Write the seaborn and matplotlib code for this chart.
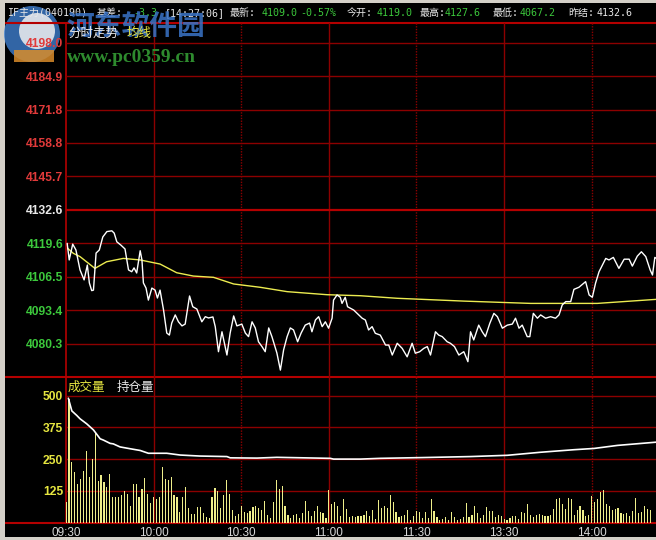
import numpy as np
import pandas as pd
import seaborn as sns
import matplotlib.pyplot as plt
from matplotlib.patches import Rectangle, Circle

# ---- values (minutes after 09:30, lunch break removed) ----
price_min = [0.4, 1.1, 2.3, 3.4, 4.8, 6.2, 7.3, 8.0, 8.8, 9.4,
             10.3, 11.4, 12.6, 14.0, 15.7, 16.5, 17.4, 18.8, 20.2, 21.4,
             22.5, 23.3, 24.2, 25.4, 26.0, 26.5, 27.4, 28.2, 29.4, 30.5,
             31.3, 32.2, 33.4, 34.5, 35.4, 36.2, 37.4, 38.5, 39.7, 40.8,
             42.3, 43.4, 44.8, 46.5, 47.7, 48.8, 50.3, 51.1, 52.2, 53.4,
             55.1, 56.2, 57.4, 58.5, 60.2, 61.4, 62.5, 63.7, 64.8, 65.9,
             67.1, 68.2, 69.4, 70.5, 72.2, 73.4, 74.5, 75.7, 76.8, 77.9,
             79.3, 80.5, 81.9, 83.4, 84.2, 85.4, 86.5, 87.7, 88.8, 89.9,
             91.1, 91.6, 92.8, 93.9, 94.5, 95.6, 96.4, 98.5, 100.2, 101.4,
             102.5, 103.6, 104.8, 105.9, 107.6, 109.4, 110.5, 111.7, 113.4, 115.1,
             116.8, 118.5, 119.6, 121.1, 122.5, 123.7, 124.8, 126.5, 127.6, 128.8,
             130.5, 131.6, 133.0, 134.5, 136.2, 137.6, 138.5, 139.6, 141.3, 142.5,
             143.6, 145.1, 146.5, 147.7, 149.4, 151.1, 152.8, 153.9, 155.1, 156.2,
             157.9, 158.8, 160.0, 161.4, 162.5, 164.2, 165.9, 167.6, 168.8, 169.9,
             171.1, 172.8, 173.9, 175.6, 177.9, 179.1, 180.2, 181.3, 182.5, 184.8,
             185.9, 187.4, 189.3, 191.1, 192.8, 193.9, 195.6, 197.0, 198.5, 200.0,
             200.8, 201.6, 202.3]
price_val = [4119.5, 4113.0, 4119.2, 4116.9, 4109.1, 4105.2, 4111.0, 4104.0, 4101.0, 4101.2,
             4115.7, 4116.9, 4122.0, 4124.1, 4124.4, 4123.5, 4120.1, 4118.8, 4117.3, 4109.1,
             4108.4, 4109.9, 4107.9, 4116.6, 4113.0, 4104.0, 4102.0, 4097.3, 4102.0, 4101.2,
             4098.1, 4101.2, 4093.4, 4084.4, 4083.6, 4088.3, 4091.5, 4088.8, 4087.2, 4087.9,
             4098.9, 4094.7, 4093.8, 4088.8, 4090.8, 4090.3, 4090.7, 4086.9, 4077.1, 4084.9,
             4075.8, 4084.4, 4091.1, 4087.2, 4087.9, 4084.4, 4083.0, 4088.8, 4086.4, 4081.0,
             4079.1, 4077.1, 4086.4, 4083.0, 4076.6, 4069.9, 4077.8, 4083.0, 4086.4, 4085.6,
             4081.0, 4084.4, 4087.5, 4088.3, 4084.9, 4089.5, 4090.8, 4086.9, 4088.8, 4086.3,
             4090.2, 4097.3, 4099.3, 4098.4, 4096.0, 4098.4, 4094.7, 4093.4, 4091.5, 4090.2,
             4089.5, 4085.6, 4086.9, 4084.3, 4083.6, 4079.7, 4079.7, 4075.8, 4080.4, 4078.4,
             4075.1, 4080.4, 4076.5, 4077.1, 4078.4, 4079.1, 4075.8, 4084.9, 4083.6, 4083.0,
             4081.0, 4080.4, 4079.1, 4075.8, 4077.1, 4073.2, 4084.9, 4081.7, 4087.5, 4084.9,
             4083.0, 4088.2, 4092.1, 4090.8, 4086.3, 4087.5, 4087.9, 4090.2, 4086.3, 4087.5,
             4083.0, 4083.0, 4092.1, 4090.2, 4091.5, 4090.2, 4090.8, 4090.2, 4091.5, 4095.4,
             4096.7, 4096.7, 4101.5, 4102.3, 4104.5, 4099.3, 4098.4, 4103.9, 4108.4, 4113.6,
             4113.0, 4114.0, 4109.7, 4113.3, 4113.3, 4110.6, 4114.5, 4116.2, 4114.3, 4109.1,
             4107.1, 4114.0, 4113.5]

avg_min = [0.6, 2.5, 4.8, 9.9, 13.9, 19.6, 25.4, 32.2, 37.9, 43.6, 50.5,
           57.4, 66.5, 75.7, 89.4, 100.8, 113.4, 136.2, 159.1, 181.9, 202.3]
avg_val = [4117.5, 4115.6, 4114.3, 4109.7, 4112.3, 4113.6, 4113.0, 4111.4, 4108.0, 4106.7, 4106.2,
           4103.6, 4102.3, 4100.6, 4099.4, 4099.0, 4098.0, 4096.9, 4096.0, 4096.0, 4097.6]

oi_min = [0.8, 2.0, 3.7, 4.8, 7.1, 9.4, 11.7, 12.8, 15.1, 16.2, 18.5, 21.9, 25.4, 28.2, 34.5,
          39.1, 45.9, 55.1, 56.2, 65.4, 72.2, 90.5, 91.6, 100.8, 107.6, 121.9, 138.5, 151.1,
          162.5, 173.9, 180.8, 188.8, 202.3]
oi_val = [490, 440, 422, 409, 389, 365, 330, 325, 312, 310, 298, 291, 284, 273, 273,
          266, 262, 260, 255, 254, 257, 253, 250, 250, 253, 256, 260, 265,
          277, 287, 292, 304, 317]

volume = [80, 488, 238, 198, 153, 172, 202, 281, 179, 251,
          356, 163, 188, 159, 139, 192, 100, 100, 101, 110,
          123, 113, 67, 153, 153, 101, 133, 176, 113, 76,
          100, 93, 100, 218, 170, 166, 181, 110, 100, 41,
          100, 139, 58, 32, 32, 63, 61, 37,
          20, 17, 101, 136, 125, 56, 108, 169, 112, 48,
          24, 35, 67, 40, 38, 44, 60, 65, 56, 48,
          85, 31, 17, 81, 169, 132, 145, 67, 31, 17,
          31, 35, 17, 38, 85, 44, 27, 44, 65, 40,
          38, 17, 129, 71, 81, 67, 27, 94, 54, 20,
          27, 22, 24, 27, 31, 44, 27, 48, 13, 89,
          58, 67, 58, 108, 81, 40, 22, 27, 31, 48,
          8, 24, 44, 40, 17, 40, 17, 91, 44, 22,
          11, 13, 22, 8, 40, 22, 8, 13, 22, 75,
          22, 31, 67, 38, 17, 31, 62, 44, 44, 22,
          31, 24, 13, 8, 17, 27, 27, 13, 40, 38,
          71, 31, 22, 31, 35, 31, 24, 24, 31, 54,
          94, 98, 71, 54, 98, 94, 31, 48, 65, 48,
          27, 31, 105, 81, 94, 121, 129, 71, 67, 51,
          54, 58, 38, 35, 38, 27, 44, 98, 38, 40,
          65, 54, 51]

price_ticks = [4080.3, 4093.4, 4106.5, 4119.6, 4132.6, 4145.7, 4158.8, 4171.8, 4184.9, 4198.0]
vol_ticks = [125, 250, 375, 500]
time_pos = [0, 30, 60, 90, 120, 150, 180]
time_labels = ['09:30', '10:00', '10:30', '11:00', '11:30', '13:30', '14:00']
prev_settle = 4132.6

header = [('IF主力(040190)', 'w'), ('基差:', 'w'), ('-3.3', 'g'), ('[14:27:06]', 'w'),
          ('最新:', 'w'), ('4109.0', 'g'), ('-0.57%', 'g'), ('今开:', 'w'), ('4119.0', 'g'),
          ('最高:', 'w'), ('4127.6', 'g'), ('最低:', 'w'), ('4067.2', 'g'),
          ('昨结:', 'w'), ('4132.6', 'w')]
header_x = [7, 97, 133, 165, 230, 262, 300, 347, 377, 420, 445, 493, 520, 568, 597]

# ---- style ----
sns.set_theme(style='dark', rc={'axes.facecolor': 'black', 'figure.facecolor': 'black'})
plt.rcParams['font.family'] = ['Liberation Sans', 'Noto Sans CJK SC', 'DejaVu Sans']
cjk = ['Noto Sans CJK SC', 'DejaVu Sans']
hdr_font = ['DejaVu Sans Mono', 'Noto Sans CJK SC']

RED = '#8c0000'
RED2 = '#b40000'
WHITE = '#e8e8e8'
GREEN = '#3cc83c'
PRED = '#e03a3a'
YEL = '#e6e640'
GRAY = '#d4d0c8'

W, H = 656, 540
fig = plt.figure(figsize=(W / 100, H / 100), dpi=100, facecolor='black')

# pixel canvas for frame pieces
bg = fig.add_axes([0, 0, 1, 1])
bg.set_xlim(0, W)
bg.set_ylim(H, 0)
bg.axis('off')
bg.add_patch(Rectangle((0, 0), 5, H, color=GRAY, lw=0))
bg.add_patch(Rectangle((0, 0), W, 2.5, color=GRAY, lw=0))
bg.add_patch(Rectangle((0, 537), W, 3, color=GRAY, lw=0))
for yy in (22.5, 377, 522.5):
    bg.plot([5, W], [yy, yy], color=RED2, lw=1.5, solid_capstyle='butt')

# watermark logo (behind the chart text)
bg.add_patch(Circle((32, 34), 28, color='#3f7fcf', alpha=0.8, lw=0))
bg.add_patch(Circle((37, 31), 18, color='#f0f0f0', alpha=0.85, lw=0))
bg.add_patch(Rectangle((14, 50), 40, 12, color='#d98c2a', alpha=0.85, lw=0))

ax = fig.add_axes([66 / W, 1 - 377 / H, (W - 66) / W, (377 - 22.5) / H])
ax2 = fig.add_axes([66 / W, 1 - 522.5 / H, (W - 66) / W, (522.5 - 377) / H])

XMAX = 202
for a in (ax, ax2):
    a.set_facecolor('none')
    for s in a.spines.values():
        s.set_visible(False)
    a.grid(False)
    a.axvline(0, color=RED2, lw=1.2, clip_on=False)
    for t in (30, 90, 150):
        a.axvline(t, color=RED, lw=1)
    for t in (60, 120, 180):
        a.axvline(t, color=RED, lw=1, ls=(0, (1, 1)))

for p in price_ticks:
    if p == prev_settle:
        ax.axhline(p, color=RED2, lw=1.6)
    else:
        ax.axhline(p, color=RED, lw=1)
for v in vol_ticks:
    ax2.axhline(v, color=RED, lw=1)

# price + average line
sns.lineplot(x=avg_min, y=avg_val, color='#ecec50', lw=1, ax=ax, zorder=3)
sns.lineplot(x=price_min, y=price_val, color='white', lw=1, ax=ax, zorder=4)

# volume bars + open interest
vol_pos = np.arange(len(volume))
sns.barplot(x=vol_pos, y=volume, native_scale=True, color='#eeee8a', saturation=1,
            width=0.4, errorbar=None, linewidth=0, ax=ax2, zorder=2)
sns.lineplot(x=oi_min, y=oi_val, color='white', lw=1.2, ax=ax2, zorder=3)

ax.set_xlim(0, XMAX)
ax.set_ylim(4067.2, 4067.2 + 354.5 * 0.3913)
ax2.set_xlim(0, XMAX)
ax2.set_ylim(0, 145.5 / 0.2536)
ax.set_xlabel('')
ax.set_ylabel('')
ax2.set_xlabel('')
ax2.set_ylabel('')

ax.set_xticks([])
ax.set_yticks(price_ticks)
ax.set_yticklabels([f'{p:.1f}' for p in price_ticks])
ax.tick_params(axis='y', length=0, pad=2, labelsize=8.7)
for p, lbl in zip(price_ticks, ax.get_yticklabels()):
    lbl.set_fontweight('bold')
    lbl.set_color(PRED if p > prev_settle else (WHITE if p == prev_settle else GREEN))

ax2.set_yticks(vol_ticks)
ax2.set_yticklabels([str(v) for v in vol_ticks])
ax2.tick_params(axis='y', length=0, pad=2, labelsize=8.7, labelcolor=YEL)
for lbl in ax2.get_yticklabels():
    lbl.set_fontweight('bold')
ax2.set_xticks(time_pos)
ax2.set_xticklabels(time_labels)
ax2.tick_params(axis='x', length=0, pad=3, labelsize=8.5, labelcolor='#d8d8d8')

# overlay canvas for texts
ov = fig.add_axes([0, 0, 1, 1])
ov.set_xlim(0, W)
ov.set_ylim(H, 0)
ov.axis('off')
ov.patch.set_alpha(0)

for (txt, c), x in zip(header, header_x):
    ov.text(x, 13, txt, color=WHITE if c == 'w' else GREEN, fontsize=7.2,
            family=hdr_font, va='center', ha='left')

ov.text(66, 28, '河东软件园', color='#3a74c8', alpha=0.85, fontsize=20, fontweight='bold',
        family=cjk, va='center', ha='left')
ov.text(67, 57, 'www.pc0359.cn', color='#2e8b2e', fontsize=14, fontweight='bold',
        family=['Liberation Serif', 'DejaVu Serif'], va='center', ha='left')

ov.text(68, 33, '分时走势', color=WHITE, fontsize=9, family=cjk, va='center')
ov.text(127, 33, '均线', color=YEL, fontsize=9, family=cjk, va='center')
ov.text(68, 387, '成交量', color=YEL, fontsize=9, family=cjk, va='center')
ov.text(117, 387, '持仓量', color=WHITE, fontsize=9, family=cjk, va='center')

fig.savefig('out.png', dpi=100, facecolor='black')
